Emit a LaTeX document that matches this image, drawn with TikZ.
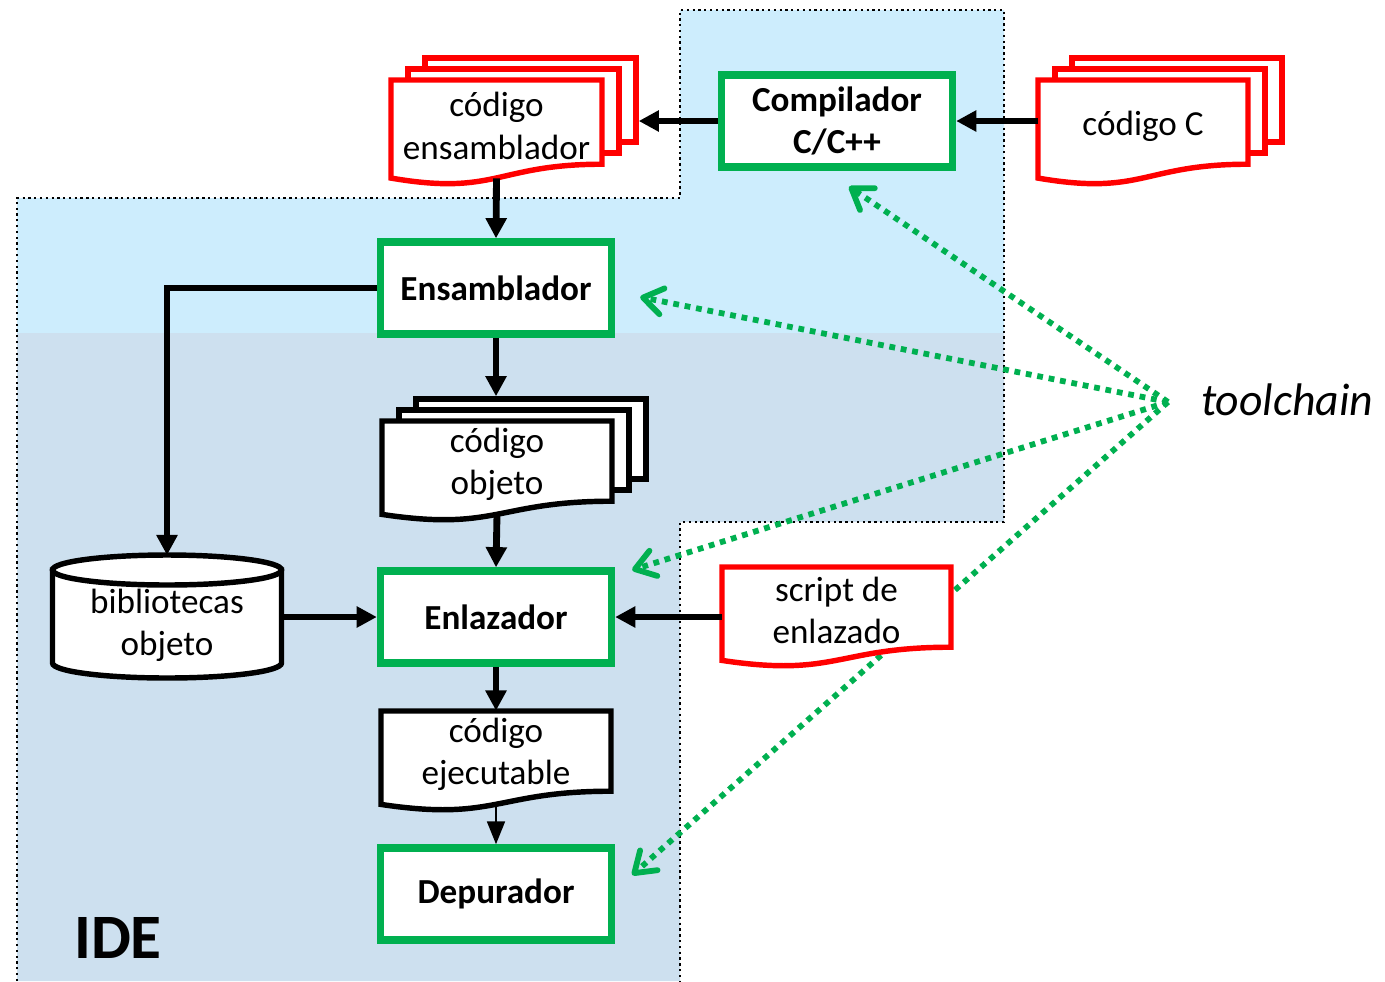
\documentclass[tikz,border=0pt]{standalone}
\usepackage{fontspec}
\setmainfont{Carlito}
\usetikzlibrary{arrows.meta,positioning,calc}
\definecolor{tcgreen}{RGB}{0,176,80}
\definecolor{tcred}{RGB}{255,0,0}
\definecolor{idetop}{RGB}{205,237,253}
\definecolor{idelow}{RGB}{205,224,239}

% document: name, colour, x0, y0, width, height, text
\newcommand\docnode[7]{%
  \draw[docline,draw=#2] (#3,#4) -- ({#3+#5},#4) -- ({#3+#5},{#4+0.802*#6})
    .. controls ({#3+0.5*#5},{#4+0.802*#6}) and ({#3+0.5*#5},{#4+1.107*#6}) .. (#3,{#4+0.934*#6}) -- cycle;
  \node[inner sep=0pt,minimum width={#5*0.02cm},minimum height={0.933*#6*0.02cm}] (#1) at ({#3+0.5*#5},{#4+0.4665*#6}) {};
  \node[doctext] (#1-txt) at ([yshift=0.06cm]#1.center) {#7};}
% stack of three documents
\newcommand\multidoc[7]{%
  \foreach \k in {2,1} {\node[docline,draw=#2,inner sep=0pt,minimum width={#5*0.02cm},minimum height={0.802*#6*0.02cm}] (#1-\k) at ({#3+0.5*#5+17*\k},{#4-11*\k+0.401*#6}) {};}
  \docnode{#1}{#2}{#3}{#4}{#5}{#6}{#7}}

\begin{document}
\begin{tikzpicture}[x=0.02cm,y=-0.02cm,>={Triangle[length=11.5pt,width=11.5pt]},
  every node/.style={font=\fontsize{20}{24}\selectfont},
  docline/.style={line width=3.1pt,fill=white},
  doctext/.style={align=center,inner sep=0pt},
  procbox/.style={draw=tcgreen,line width=4.2pt,fill=white,minimum width=4.62cm,minimum height=1.84cm,align=center,font=\fontsize{20}{24}\selectfont\bfseries},
  flow/.style={->,line width=3.9pt},
  hint/.style={-{Straight Barb[length=11pt,width=15pt,round]},tcgreen,line width=3.3pt,dash pattern=on 3.3pt off 3.3pt}]
\useasboundingbox (0,0) rectangle (1385,981);
\fill[idetop] (17,198) -- (680,198) -- (680,10) -- (1004,10) -- (1004,333) -- (17,333) -- cycle;
\fill[idelow] (17,333) -- (1004,333) -- (1004,522) -- (680,522) -- (680,981) -- (17,981) -- cycle;
\draw[line width=1.3pt,dotted] (17,981) -- (17,198) -- (680,198) -- (680,10) -- (1004,10) -- (1004,522) -- (680,522) -- (680,981);

\node[procbox] (comp) at (837,121) {Compilador\\C/C++};
\node[procbox] (ens) at (496,288) {Ensamblador};
\node[procbox] (enl) at (496,617) {Enlazador};
\node[procbox] (dep) at (496,894) {Depurador};
\node[font=\fontsize{36}{40}\selectfont\bfseries] (ide) at (118,938) {IDE};
\node[font=\fontsize{26}{30}\selectfont\itshape,anchor=west] (tool) at (1195,400) {toolchain};
\coordinate (tc) at (1168,402);

\draw[hint] (tc) -- ([shift={(12,16)}]comp.south);
\draw[hint] (tc) -- ([shift={(25,9)}]ens.east);
\draw[hint] (tc) -- ([shift={(17,-47)}]enl.east);
\draw[hint] (tc) -- ([shift={(17,-19)}]dep.east);

\multidoc{asm}{tcred}{391}{80}{211}{105}{código\\ensamblador}
\multidoc{srcc}{tcred}{1038}{80}{210}{105}{código C}
\multidoc{obj}{black}{382}{421}{230}{100}{código\\objeto}
\docnode{lds}{tcred}{722}{567}{229}{100}{script de\\enlazado}
\docnode{exe}{black}{381}{711}{230}{100}{código\\ejecutable}

\node[minimum width=4.58cm,minimum height=2.46cm] (biblio) at (167,617) {};
\draw[line width=3.1pt,fill=white] (52.5,570) -- (52.5,663) arc[start angle=180,end angle=0,x radius=114.5,y radius=15] -- (281.5,570) -- cycle;
\draw[line width=3.1pt,fill=white] (167,570) ellipse[x radius=114.5,y radius=15];
\node[doctext] (biblio-txt) at ([yshift=-0.16cm]biblio.center) {bibliotecas\\objeto};

\draw[flow] (comp.west) -- (comp.west -| asm-2.east);
\draw[flow] (comp.east -| srcc.west) -- (comp.east);
\draw[flow] (asm.south) -- (ens.north);
\draw[flow] (ens.west) -| (biblio.north);
\draw[flow] (ens.south) -- (ens.south |- obj-2.north);
\draw[flow] (obj.south) -- (enl.north);
\draw[flow] (biblio.east) -- (enl.west);
\draw[flow] (lds.west |- enl.east) -- (enl.east);
\draw[flow] (enl.south) -- (exe.north);
\draw[->,line width=1.6pt,>={Triangle[length=13pt,width=10pt]}] (exe.south) -- (dep.north);
\end{tikzpicture}
\end{document}
